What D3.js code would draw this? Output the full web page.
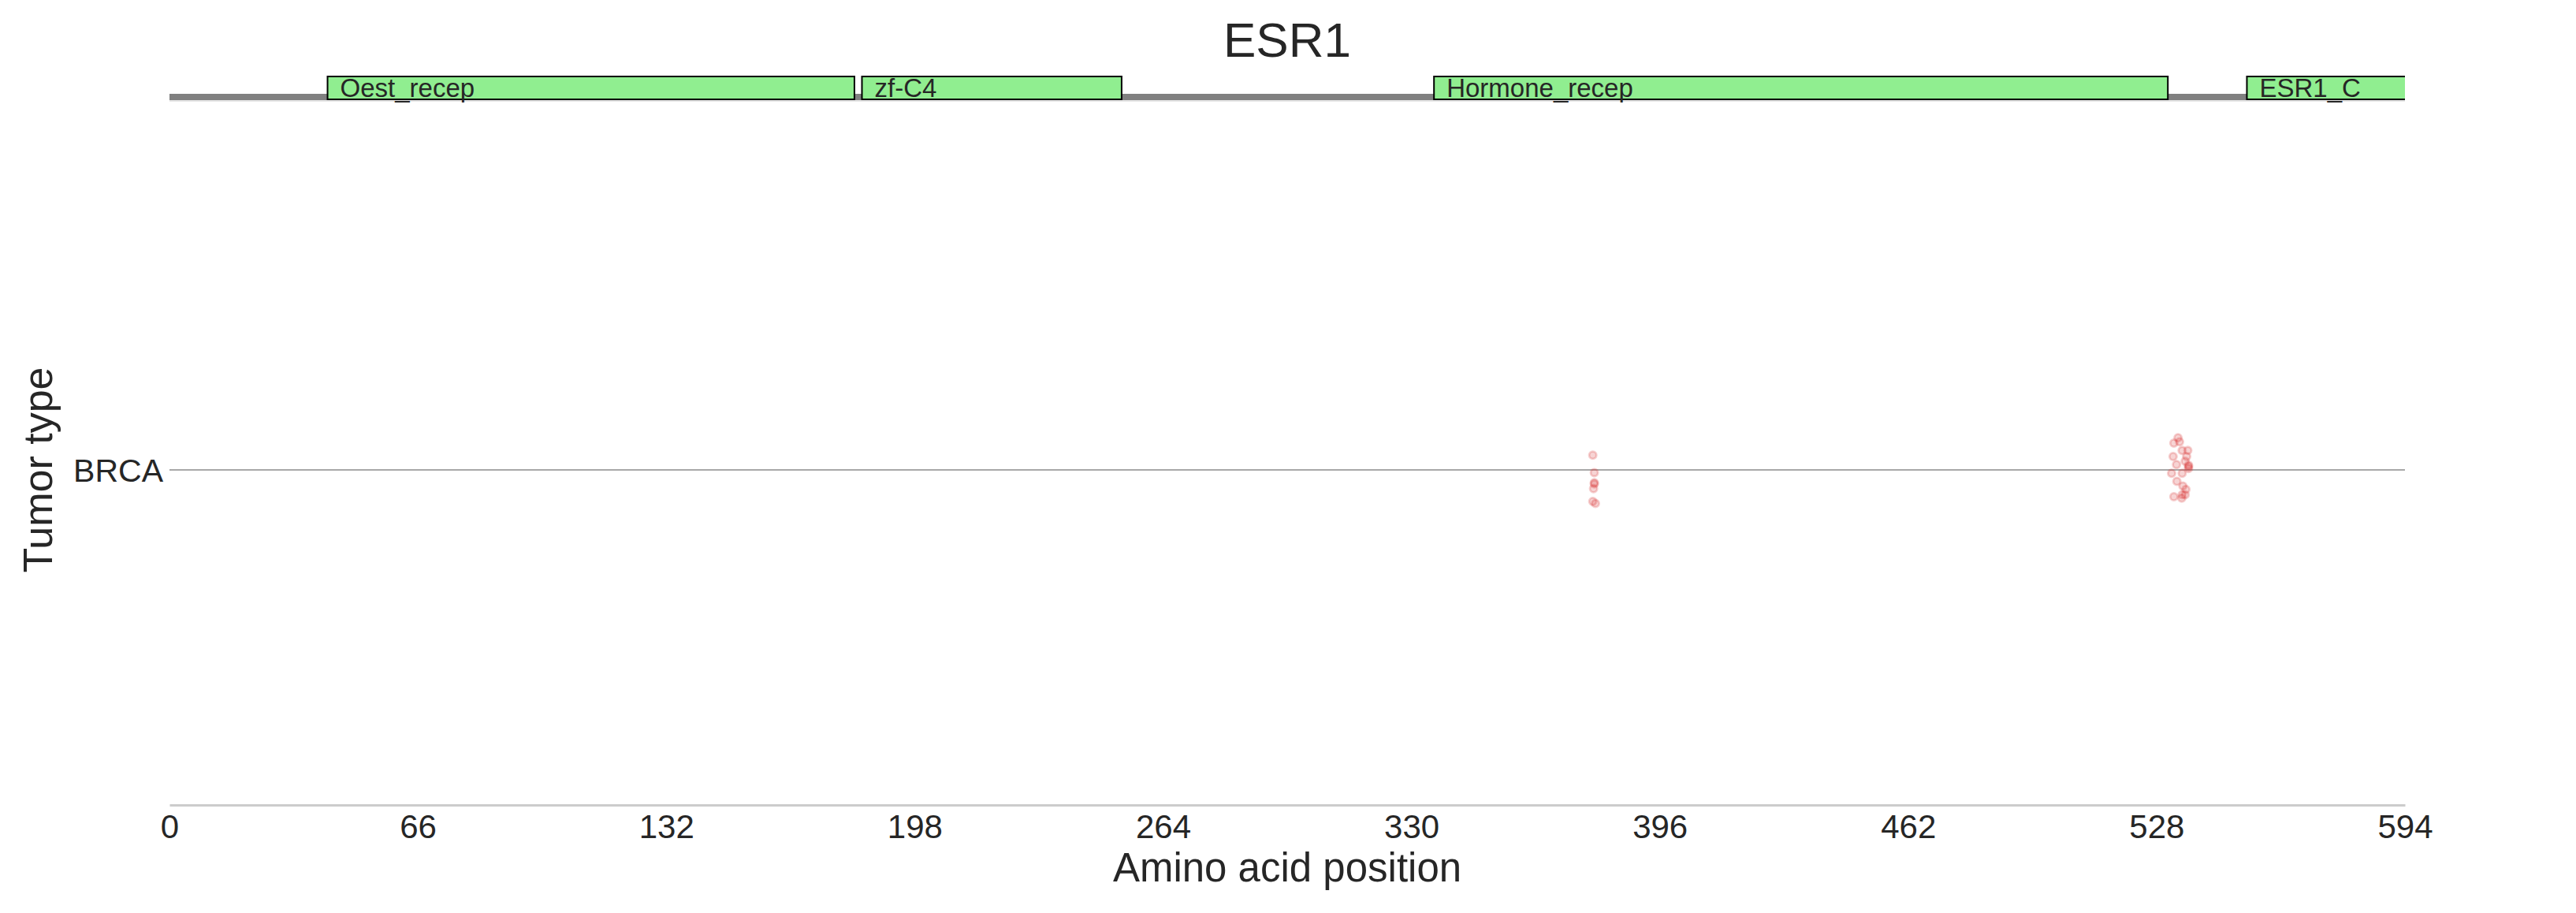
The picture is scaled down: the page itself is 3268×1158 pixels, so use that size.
<!DOCTYPE html>
<html>
<head>
<meta charset="utf-8">
<script src="https://cdn.jsdelivr.net/npm/d3@7"></script>
<style>
  html, body { margin: 0; padding: 0; background: #ffffff; }
  svg { display: block; font-family: "Liberation Sans", Arial, sans-serif; }
</style>
</head>
<body>
<svg id="chart" width="3268" height="1158"></svg>
<script>
// ---------------- data ----------------
const geneName = "ESR1";
const proteinLength = 594;
const xTickValues = [0, 66, 132, 198, 264, 330, 396, 462, 528, 594];

const domainNames  = ["Oest_recep", "zf-C4", "Hormone_recep", "ESR1_C"];
const domainStarts = [42, 184, 336, 552];
const domainEnds   = [182, 253, 531, 595];

const tumorTypes = ["BRCA"];

// mutation positions (amino acid) and strip jitter (category units)
const mutPositions = [
  378.2, 378.6, 378.6, 378.6, 378.4, 378.2, 378.9,
  533.7, 532.6, 534.1, 534.8, 536.3, 532.4, 536.0, 533.3, 535.6,
  536.5, 536.5, 536.5, 532.0, 534.8, 533.4, 535.0, 534.8, 532.6,
  534.7, 535.6, 535.8
];
const mutJitter = [
  -0.022, 0.004, 0.019, 0.021, 0.028, 0.047, 0.050,
  -0.048, -0.040, -0.042, -0.029, -0.029, -0.020, -0.020, -0.008, -0.013,
  -0.007, -0.005, -0.002, 0.005, 0.005, 0.017, 0.024, 0.037, 0.040,
  0.042, 0.037, 0.029
];
const mutTumor = mutPositions.map(() => "BRCA");

// ---------------- layout ----------------
const svg = d3.select("#chart");
const left = 215, right = 3051;
const plotTop = 171, plotBottom = 1021;
const textColor = "#262626";

const x = d3.scaleLinear().domain([0, proteinLength]).range([left, right]);
const yBand = d3.scaleBand().domain(tumorTypes).range([plotTop, plotBottom]).padding(0);
const yJit = d3.scaleLinear().domain([-0.5, 0.5]).range([0, yBand.bandwidth()]);

svg.append("rect").attr("width", 3268).attr("height", 1158).attr("fill", "#ffffff");

// clip for domain track
svg.append("clipPath").attr("id", "trackClip")
  .append("rect").attr("x", left).attr("y", 0).attr("width", right - left).attr("height", 200);

// title
svg.append("text")
  .attr("x", (left + right) / 2).attr("y", 72)
  .attr("text-anchor", "middle")
  .attr("font-size", 62).attr("fill", textColor)
  .text(geneName);

// domain track
const track = svg.append("g").attr("clip-path", "url(#trackClip)");
track.append("line")
  .attr("x1", x(0)).attr("x2", x(proteinLength))
  .attr("y1", 128).attr("y2", 128)
  .attr("stroke", "#dddddd").attr("stroke-width", 1.5);
track.append("rect")
  .attr("x", x(0)).attr("y", 119)
  .attr("width", x(proteinLength) - x(0)).attr("height", 8)
  .attr("fill", "#808080");

const domains = domainNames.map((n, i) => ({ name: n, start: domainStarts[i], end: domainEnds[i] }));
track.selectAll("rect.dom").data(domains).join("rect")
  .attr("class", "dom")
  .attr("x", d => x(d.start)).attr("y", 97)
  .attr("width", d => x(d.end) - x(d.start)).attr("height", 29)
  .attr("fill", "#90ee90").attr("stroke", "#000000").attr("stroke-width", 2);
svg.selectAll("text.dom").data(domains).join("text")
  .attr("class", "dom")
  .attr("x", d => x(d.start) + 16).attr("y", 123)
  .attr("font-size", 33).attr("fill", textColor)
  .text(d => d.name);

// category grid line
svg.selectAll("line.cat").data(tumorTypes).join("line")
  .attr("class", "cat")
  .attr("x1", left).attr("x2", right)
  .attr("y1", d => yBand(d) + yBand.bandwidth() / 2)
  .attr("y2", d => yBand(d) + yBand.bandwidth() / 2)
  .attr("stroke", "#a8a8a8").attr("stroke-width", 2);

// y tick labels
svg.selectAll("text.cat").data(tumorTypes).join("text")
  .attr("class", "cat")
  .attr("x", 207)
  .attr("y", d => yBand(d) + yBand.bandwidth() / 2 + 15)
  .attr("text-anchor", "end")
  .attr("font-size", 41).attr("fill", textColor)
  .text(d => d);

// y axis label
svg.append("text")
  .attr("transform", `translate(66, ${(plotTop + plotBottom) / 2}) rotate(-90)`)
  .attr("text-anchor", "middle")
  .attr("font-size", 52).attr("fill", textColor)
  .text("Tumor type");

// x axis
const xAxis = d3.axisBottom(x).tickValues(xTickValues).tickSize(0).tickPadding(12).tickFormat(d3.format("d"));
const gx = svg.append("g").attr("transform", `translate(0, ${plotBottom})`).call(xAxis);
gx.select(".domain").attr("stroke", "#cccccc").attr("stroke-width", 3);
gx.selectAll(".tick text").attr("font-size", 42).attr("fill", textColor)
  .attr("font-family", "Liberation Sans, Arial, sans-serif");

svg.append("text")
  .attr("x", (left + right) / 2).attr("y", 1118)
  .attr("text-anchor", "middle")
  .attr("font-size", 51).attr("fill", textColor)
  .text("Amino acid position");

// mutation points
const muts = mutPositions.map((p, i) => ({ pos: p, jit: mutJitter[i], tumor: mutTumor[i] }));
svg.append("g").selectAll("circle").data(muts).join("circle")
  .attr("cx", d => x(d.pos))
  .attr("cy", d => yBand(d.tumor) + yJit(d.jit))
  .attr("r", 4.6)
  .attr("fill", "rgba(214,39,40,0.2)")
  .attr("stroke", "rgba(214,39,40,0.22)")
  .attr("stroke-width", 2.8);
</script>
</body>
</html>
